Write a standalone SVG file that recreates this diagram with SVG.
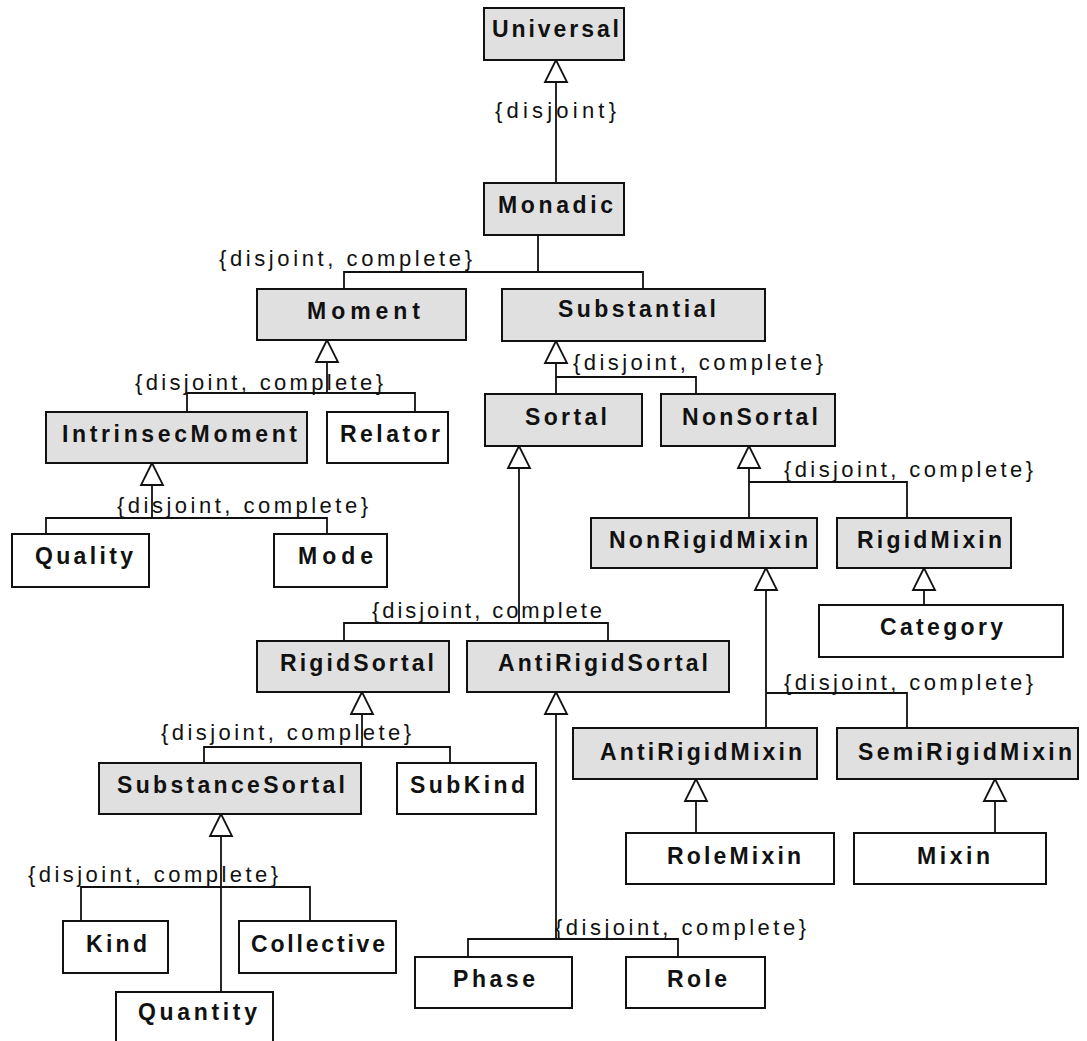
<svg xmlns="http://www.w3.org/2000/svg" xmlns:xlink="http://www.w3.org/1999/xlink" width="1087" height="1041" viewBox="0 0 1087 1041">
<style>
.abs{fill:#e0e0e0;stroke:#111;stroke-width:2}
.con{fill:#fff;stroke:#111;stroke-width:2}
.nt{font-family:"Liberation Sans",Arial,sans-serif;font-weight:bold;font-size:23px;fill:#111}
.lbl{font-family:"Liberation Sans",Arial,sans-serif;font-size:22px;fill:#111}
.ln{fill:none;stroke:#111;stroke-width:1.8}
.gen{fill:#fff;stroke:#111;stroke-width:1.8;stroke-linejoin:miter}
</style>
<defs>
<polygon id="tri" points="0,0 -11,22 11,22"/>
</defs>
<rect width="1087" height="1041" fill="#fff"/>

<g id="connectors">
<path class="ln" d="M556,183V82"/>
<path class="ln" d="M538,235V272M344,289V272H643V289"/>
<path class="ln" d="M327,362V393M187,412V393H415V412"/>
<path class="ln" d="M152,485V518M46,534V518H327V534"/>
<path class="ln" d="M556,363V394M556,377H696V394"/>
<path class="ln" d="M749,468V518M749,482H907V518"/>
<path class="ln" d="M924,590V605"/>
<path class="ln" d="M519,468V623M344,641V623H608V641"/>
<path class="ln" d="M766,590V728M766,693H907V728"/>
<path class="ln" d="M696,801V833"/>
<path class="ln" d="M995,801V833"/>
<path class="ln" d="M362,714V747M204,763V747H450V763"/>
<path class="ln" d="M221,836V992M81,921V887H310V921"/>
<path class="ln" d="M556,714V939M468,957V939H678V957"/>
<use href="#tri" class="gen" x="556" y="60"/>
<use href="#tri" class="gen" x="327" y="340"/>
<use href="#tri" class="gen" x="152" y="463"/>
<use href="#tri" class="gen" x="556" y="341"/>
<use href="#tri" class="gen" x="749" y="446"/>
<use href="#tri" class="gen" x="924" y="568"/>
<use href="#tri" class="gen" x="519" y="446"/>
<use href="#tri" class="gen" x="766" y="568"/>
<use href="#tri" class="gen" x="696" y="779"/>
<use href="#tri" class="gen" x="995" y="779"/>
<use href="#tri" class="gen" x="362" y="692"/>
<use href="#tri" class="gen" x="221" y="814"/>
<use href="#tri" class="gen" x="556" y="692"/>
<text class="lbl" x="495" y="118" textLength="121" lengthAdjust="spacing">{disjoint}</text>
<text class="lbl" x="219" y="266" textLength="253" lengthAdjust="spacing">{disjoint, complete}</text>
<text class="lbl" x="135" y="390" textLength="248" lengthAdjust="spacing">{disjoint, complete}</text>
<text class="lbl" x="117" y="513" textLength="251" lengthAdjust="spacing">{disjoint, complete}</text>
<text class="lbl" x="573" y="370" textLength="250" lengthAdjust="spacing">{disjoint, complete}</text>
<text class="lbl" x="784" y="477" textLength="249" lengthAdjust="spacing">{disjoint, complete}</text>
<text class="lbl" x="372" y="618" textLength="230" lengthAdjust="spacing">{disjoint, complete</text>
<text class="lbl" x="784" y="690" textLength="249" lengthAdjust="spacing">{disjoint, complete}</text>
<text class="lbl" x="161" y="740" textLength="250" lengthAdjust="spacing">{disjoint, complete}</text>
<text class="lbl" x="28" y="882" textLength="250" lengthAdjust="spacing">{disjoint, complete}</text>
<text class="lbl" x="555" y="935" textLength="251" lengthAdjust="spacing">{disjoint, complete}</text>
</g>

<g id="Universal"><rect class="abs" x="484" y="8" width="140" height="52"/><text class="nt" x="492" y="37" textLength="127" lengthAdjust="spacing">Universal</text></g>
<g id="Monadic"><rect class="abs" x="484" y="183" width="140" height="52"/><text class="nt" x="498" y="213" textLength="115" lengthAdjust="spacing">Monadic</text></g>
<g id="Moment"><rect class="abs" x="257" y="289" width="209" height="51"/><text class="nt" x="307" y="319" textLength="113" lengthAdjust="spacing">Moment</text></g>
<g id="Substantial"><rect class="abs" x="502" y="289" width="263" height="52"/><text class="nt" x="558" y="317" textLength="158" lengthAdjust="spacing">Substantial</text></g>
<g id="Sortal"><rect class="abs" x="485" y="394" width="157" height="52"/><text class="nt" x="525" y="425" textLength="82" lengthAdjust="spacing">Sortal</text></g>
<g id="NonSortal"><rect class="abs" x="661" y="394" width="174" height="52"/><text class="nt" x="682" y="425" textLength="136" lengthAdjust="spacing">NonSortal</text></g>
<g id="IntrinsecMoment"><rect class="abs" x="46" y="412" width="261" height="51"/><text class="nt" x="62" y="442" textLength="235" lengthAdjust="spacing">IntrinsecMoment</text></g>
<g id="Relator"><rect class="con" x="327" y="412" width="121" height="51"/><text class="nt" x="340" y="442" textLength="100" lengthAdjust="spacing">Relator</text></g>
<g id="Quality"><rect class="con" x="12" y="534" width="137" height="53"/><text class="nt" x="35" y="564" textLength="98" lengthAdjust="spacing">Quality</text></g>
<g id="Mode"><rect class="con" x="274" y="534" width="113" height="53"/><text class="nt" x="298" y="564" textLength="75" lengthAdjust="spacing">Mode</text></g>
<g id="NonRigidMixin"><rect class="abs" x="591" y="518" width="226" height="50"/><text class="nt" x="609" y="548" textLength="199" lengthAdjust="spacing">NonRigidMixin</text></g>
<g id="RigidMixin"><rect class="abs" x="837" y="518" width="174" height="50"/><text class="nt" x="857" y="548" textLength="145" lengthAdjust="spacing">RigidMixin</text></g>
<g id="Category"><rect class="con" x="819" y="605" width="244" height="52"/><text class="nt" x="880" y="635" textLength="123" lengthAdjust="spacing">Category</text></g>
<g id="RigidSortal"><rect class="abs" x="257" y="641" width="192" height="51"/><text class="nt" x="280" y="671" textLength="154" lengthAdjust="spacing">RigidSortal</text></g>
<g id="AntiRigidSortal"><rect class="abs" x="467" y="641" width="262" height="51"/><text class="nt" x="498" y="671" textLength="210" lengthAdjust="spacing">AntiRigidSortal</text></g>
<g id="AntiRigidMixin"><rect class="abs" x="573" y="728" width="244" height="51"/><text class="nt" x="600" y="760" textLength="202" lengthAdjust="spacing">AntiRigidMixin</text></g>
<g id="SemiRigidMixin"><rect class="abs" x="837" y="728" width="241" height="51"/><text class="nt" x="858" y="760" textLength="214" lengthAdjust="spacing">SemiRigidMixin</text></g>
<g id="RoleMixin"><rect class="con" x="626" y="833" width="208" height="51"/><text class="nt" x="667" y="864" textLength="134" lengthAdjust="spacing">RoleMixin</text></g>
<g id="Mixin"><rect class="con" x="854" y="833" width="192" height="51"/><text class="nt" x="917" y="864" textLength="73" lengthAdjust="spacing">Mixin</text></g>
<g id="SubstanceSortal"><rect class="abs" x="99" y="763" width="262" height="51"/><text class="nt" x="117" y="793" textLength="228" lengthAdjust="spacing">SubstanceSortal</text></g>
<g id="SubKind"><rect class="con" x="397" y="763" width="139" height="51"/><text class="nt" x="410" y="793" textLength="115" lengthAdjust="spacing">SubKind</text></g>
<g id="Kind"><rect class="con" x="63" y="921" width="105" height="52"/><text class="nt" x="86" y="952" textLength="61" lengthAdjust="spacing">Kind</text></g>
<g id="Collective"><rect class="con" x="239" y="921" width="157" height="52"/><text class="nt" x="251" y="952" textLength="134" lengthAdjust="spacing">Collective</text></g>
<g id="Quantity"><rect class="con" x="116" y="992" width="157" height="52"/><text class="nt" x="138" y="1020" textLength="119" lengthAdjust="spacing">Quantity</text></g>
<g id="Phase"><rect class="con" x="415" y="957" width="157" height="51"/><text class="nt" x="453" y="987" textLength="82" lengthAdjust="spacing">Phase</text></g>
<g id="Role"><rect class="con" x="626" y="957" width="139" height="51"/><text class="nt" x="667" y="987" textLength="60" lengthAdjust="spacing">Role</text></g>
</svg>
